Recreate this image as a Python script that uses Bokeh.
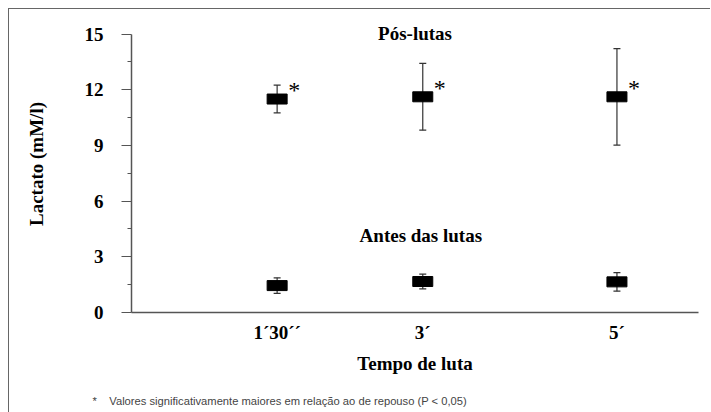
from bokeh.plotting import figure
from bokeh.models import (Range1d, FixedTicker, ColumnDataSource, Whisker, TeeHead, Label, Title)
from bokeh.core.properties import value
from bokeh.embed import file_html
from bokeh.resources import INLINE

# ---- data ----
minutes = [1.5, 3.0, 5.0]
tick_labels = ["1´30´´", "3´", "5´"]
pos_mean = [11.5, 11.62, 11.62]
pos_sd = [0.75, 1.8, 2.6]
pre_mean = [1.45, 1.67, 1.65]
pre_sd = [0.42, 0.4, 0.5]
y_ticks = [0, 3, 6, 9, 12, 15]
y_minor = [1.5, 4.5, 7.5, 10.5, 13.5]

SERIF = "Liberation Serif"
AX = "#555555"

p = figure(frame_width=567, frame_height=297, output_backend="svg", toolbar_location=None,
           x_range=Range1d(0, 5.84), y_range=Range1d(0, 16),
           min_border_left=122, min_border_right=12, min_border_top=6, min_border_bottom=10)
p.styles = {"margin-left": "8px", "margin-top": "8px",
            "border-top": "1px solid #666666", "border-left": "1px solid #666666"}
p.grid.visible = False
p.outline_line_color = None
p.background_fill_color = "white"
p.border_fill_color = "white"

# y axis
ya = p.yaxis[0]
ya.ticker = FixedTicker(ticks=y_ticks, minor_ticks=y_minor)
ya.bounds = (0, 15)
ya.axis_line_color = AX
ya.axis_line_width = 1.5
ya.major_tick_line_color = AX
ya.minor_tick_line_color = AX
ya.major_tick_out = 10
ya.major_tick_in = 0
ya.minor_tick_out = 4
ya.minor_tick_in = 0
ya.major_label_text_font = SERIF
ya.major_label_text_font_style = "bold"
ya.major_label_text_font_size = "19px"
ya.major_label_text_color = "black"
ya.major_label_standoff = 18
ya.axis_label = "Lactato (mM/l)"
ya.axis_label_text_font = SERIF
ya.axis_label_text_font_style = "bold"
ya.axis_label_text_font_size = "19px"
ya.axis_label_text_color = "black"
ya.axis_label_standoff = 35

# x axis
xa = p.xaxis[0]
xa.ticker = FixedTicker(ticks=minutes, minor_ticks=[])
xa.major_label_overrides = {m: t for m, t in zip(minutes, tick_labels)}
xa.axis_line_color = AX
xa.axis_line_width = 1.5
xa.major_tick_out = 0
xa.major_tick_in = 0
xa.minor_tick_out = 0
xa.minor_tick_in = 0
xa.major_label_text_font = SERIF
xa.major_label_text_font_style = "bold"
xa.major_label_text_font_size = "19px"
xa.major_label_text_color = "black"
xa.major_label_standoff = 9
xa.axis_label = "Tempo de luta"
xa.axis_label_text_font = SERIF
xa.axis_label_text_font_style = "bold"
xa.axis_label_text_font_size = "19px"
xa.axis_label_text_color = "black"
xa.axis_label_standoff = 7

# sources
pos = ColumnDataSource(dict(x=minutes, y=pos_mean,
                            lo=[m - s for m, s in zip(pos_mean, pos_sd)],
                            hi=[m + s for m, s in zip(pos_mean, pos_sd)]))
pre = ColumnDataSource(dict(x=minutes, y=pre_mean,
                            lo=[m - s for m, s in zip(pre_mean, pre_sd)],
                            hi=[m + s for m, s in zip(pre_mean, pre_sd)]))

for src in (pos, pre):
    w = Whisker(base="x", lower="lo", upper="hi", source=src, level="underlay",
                line_color="#333333", line_width=1.2,
                upper_head=TeeHead(size=7, line_color="#333333", line_width=1.2),
                lower_head=TeeHead(size=7, line_color="#333333", line_width=1.2))
    p.add_layout(w)
    p.rect(x="x", y="y", width=20, height=10, width_units="screen", height_units="screen",
           source=src, fill_color="black", line_color="black")

# significance asterisks
p.text(x="x", y="y", text=value("*"), source=pos, x_offset=17, y_offset=-9,
       text_font=value(SERIF), text_font_size="24px", text_align="center",
       text_baseline="alphabetic", text_color="black")

# group labels
p.add_layout(Label(x=2.92, y=15.03, text="Pós-lutas", text_font=SERIF, text_font_style="bold",
                   text_font_size="19px", text_align="center", text_baseline="middle",
                   text_color="black"))
p.add_layout(Label(x=2.98, y=4.15, text="Antes das lutas", text_font=SERIF, text_font_style="bold",
                   text_font_size="19px", text_align="center", text_baseline="middle",
                   text_color="black"))

# footnote
p.add_layout(Title(text="*\u00a0\u00a0\u00a0\u00a0Valores significativamente maiores em relação ao de repouso (P < 0,05)",
                   align="left", offset=-39, standoff=32,
                   text_font="Liberation Sans", text_font_size="11.2px", text_font_style="normal",
                   text_color="#444444"), "below")

open("out.html", "w").write(file_html(p, INLINE))
